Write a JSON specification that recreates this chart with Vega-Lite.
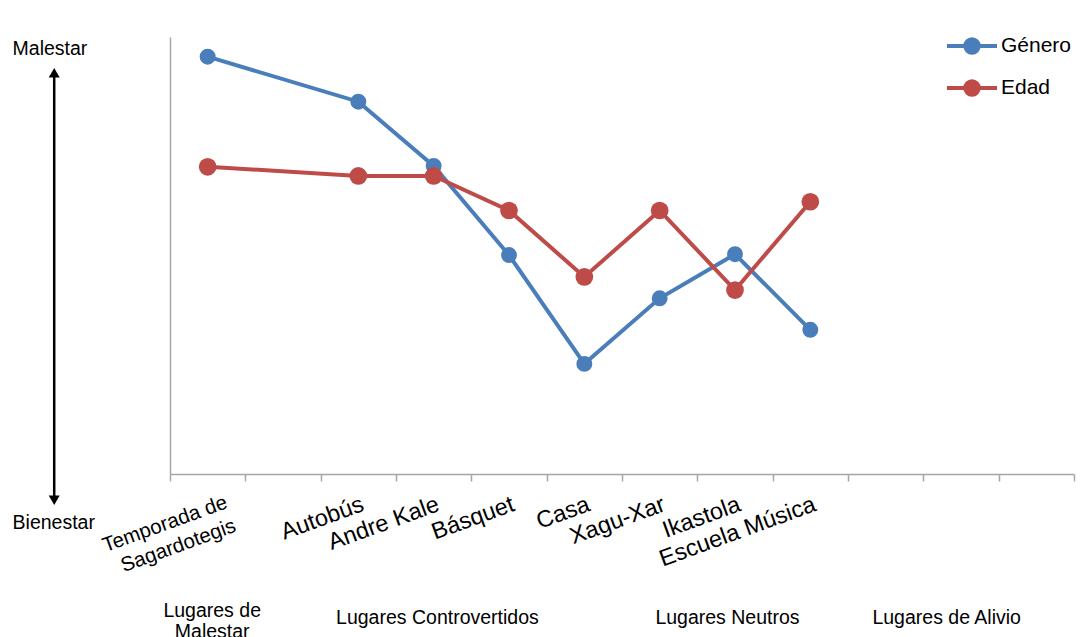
{
  "$schema": "https://vega.github.io/schema/vega-lite/v6.json",
  "width": 904,
  "height": 437,
  "autosize": {"type": "none"},
  "padding": {"left": 170, "top": 37, "right": 12, "bottom": 163},
  "background": "white",
  "config": {
    "view": {"stroke": null},
    "font": "Liberation Sans"
  },
  "datasets": {
    "valoraciones": [
      {"serie": "Género", "lugar": "Temporada de Sagardotegis", "valor": 95.5},
      {"serie": "Género", "lugar": "Autobús", "valor": 85.2},
      {"serie": "Género", "lugar": "Andre Kale", "valor": 70.5},
      {"serie": "Género", "lugar": "Básquet", "valor": 50.1},
      {"serie": "Género", "lugar": "Casa", "valor": 25.2},
      {"serie": "Género", "lugar": "Xagu-Xar", "valor": 40.2},
      {"serie": "Género", "lugar": "Ikastola", "valor": 50.3},
      {"serie": "Género", "lugar": "Escuela Música", "valor": 33.0},
      {"serie": "Edad", "lugar": "Temporada de Sagardotegis", "valor": 70.3},
      {"serie": "Edad", "lugar": "Autobús", "valor": 68.2},
      {"serie": "Edad", "lugar": "Andre Kale", "valor": 68.2},
      {"serie": "Edad", "lugar": "Básquet", "valor": 60.3},
      {"serie": "Edad", "lugar": "Casa", "valor": 45.1},
      {"serie": "Edad", "lugar": "Xagu-Xar", "valor": 60.3},
      {"serie": "Edad", "lugar": "Ikastola", "valor": 42.1},
      {"serie": "Edad", "lugar": "Escuela Música", "valor": 62.3}
    ],
    "polos": [
      {"polo": "Malestar", "texto": 97.2, "punta": 91.8},
      {"polo": "Bienestar", "texto": -11.2, "punta": -6.0}
    ],
    "grupos": [
      {"grupo": "Lugares de\nMalestar", "pos": 0.56},
      {"grupo": "Lugares Controvertidos", "pos": 3.55},
      {"grupo": "Lugares Neutros", "pos": 7.4},
      {"grupo": "Lugares de Alivio", "pos": 10.31}
    ]
  },
  "layer": [
    {
      "data": {"name": "valoraciones"},
      "encoding": {
        "x": {
          "field": "lugar",
          "type": "nominal",
          "scale": {
            "type": "band",
            "paddingInner": 0,
            "paddingOuter": 0,
            "domain": ["Temporada de Sagardotegis", " ", "Autobús", "Andre Kale", "Básquet", "Casa", "Xagu-Xar", "Ikastola", "Escuela Música", "  ", "   ", "    "]
          },
          "axis": {
            "title": null,
            "grid": false,
            "domainColor": "#a6a6a6",
            "domainWidth": 1.5,
            "tickColor": "#a6a6a6",
            "tickWidth": 1.5,
            "tickSize": 7,
            "tickBand": "extent",
            "labelAngle": -20,
            "labelAlign": "right",
            "labelBaseline": "top",
            "labelFont": "Liberation Sans",
            "labelFontSize": {"condition": {"test": "datum.label == 'Temporada de Sagardotegis'", "value": 20.5}, "value": 23.5},
            "labelColor": "#000000",
            "labelPadding": 11,
            "labelLineHeight": 25,
            "labelOverlap": false,
            "labelExpr": "datum.label == 'Temporada de Sagardotegis' ? ['Temporada de', 'Sagardotegis'] : datum.label",
            "labelOffset": {"condition": {"test": "datum.label == 'Temporada de Sagardotegis'", "value": 15}, "value": 0}
          }
        },
        "y": {
          "field": "valor",
          "type": "quantitative",
          "scale": {"domain": [0, 100], "nice": false, "zero": false},
          "axis": {
            "title": null,
            "grid": false,
            "ticks": false,
            "labels": false,
            "domainColor": "#a6a6a6",
            "domainWidth": 1.5
          }
        },
        "color": {
          "field": "serie",
          "type": "nominal",
          "scale": {"domain": ["Género", "Edad"], "range": ["#4A7EBB", "#BE4B48"]},
          "legend": {
            "title": null,
            "orient": "none",
            "legendX": 775,
            "legendY": -18,
            "symbolType": "M-1,0H1M0.27,0A0.27,0.27,0,1,1,-0.27,0A0.27,0.27,0,1,1,0.27,0Z",
            "symbolSize": 2500,
            "symbolStrokeWidth": 4,
            "labelFont": "Liberation Sans",
            "labelFontSize": 21,
            "labelColor": "#000000",
            "labelOffset": 2,
            "rowPadding": -4,
            "encode": {
              "symbols": {
                "update": {
                  "fill": {"scale": "color", "field": "value"},
                  "stroke": {"scale": "color", "field": "value"}
                }
              }
            }
          }
        },
        "order": {"value": null}
      },
      "layer": [
        {
          "transform": [{"filter": "datum.serie === 'Género'"}],
          "mark": {"type": "line", "strokeWidth": 4, "point": {"filled": true, "size": 254, "opacity": 1}}
        },
        {
          "transform": [{"filter": "datum.serie === 'Edad'"}],
          "mark": {"type": "line", "strokeWidth": 4, "point": {"filled": true, "size": 314, "opacity": 1}}
        }
      ]
    },
    {
      "data": {"name": "polos"},
      "encoding": {
        "x": {"datum": -1.537, "type": "quantitative", "scale": {"domain": [0, 12], "nice": false, "zero": false}, "axis": null}
      },
      "layer": [
        {
          "mark": {"type": "rule", "color": "#000000", "strokeWidth": 2.5},
          "encoding": {
            "y": {"aggregate": "max", "field": "punta", "type": "quantitative", "scale": {"domain": [0, 100], "nice": false, "zero": false}, "axis": null},
            "y2": {"aggregate": "min", "field": "punta"}
          }
        },
        {
          "mark": {"type": "point", "filled": true, "color": "#000000", "opacity": 1, "size": 121},
          "encoding": {
            "y": {"field": "punta", "type": "quantitative", "scale": {"domain": [0, 100], "nice": false, "zero": false}, "axis": null},
            "shape": {"field": "polo", "type": "nominal", "scale": {"domain": ["Malestar", "Bienestar"], "range": ["triangle-up", "triangle-down"]}, "legend": null}
          }
        },
        {
          "mark": {"type": "text", "align": "left", "baseline": "middle", "fontSize": 19.5, "color": "#000000"},
          "encoding": {
            "x": {"datum": -2.09, "type": "quantitative", "scale": {"domain": [0, 12], "nice": false, "zero": false}, "axis": null},
            "y": {"field": "texto", "type": "quantitative", "scale": {"domain": [0, 100], "nice": false, "zero": false}, "axis": null},
            "text": {"field": "polo"}
          }
        }
      ]
    },
    {
      "data": {"name": "grupos"},
      "mark": {
        "type": "text",
        "align": "center",
        "baseline": "middle",
        "fontSize": 19.5,
        "lineBreak": "\n",
        "lineHeight": 21,
        "color": "#000000",
        "dy": {"expr": "indexof(datum.grupo, '\\n') >= 0 ? -7 : 0"}
      },
      "encoding": {
        "x": {"field": "pos", "type": "quantitative", "scale": {"domain": [0, 12], "nice": false, "zero": false}, "axis": null},
        "y": {"datum": -33, "type": "quantitative", "scale": {"domain": [0, 100], "nice": false, "zero": false}, "axis": null},
        "text": {"field": "grupo"}
      }
    }
  ],
  "resolve": {"scale": {"x": "independent", "y": "independent"}}
}
